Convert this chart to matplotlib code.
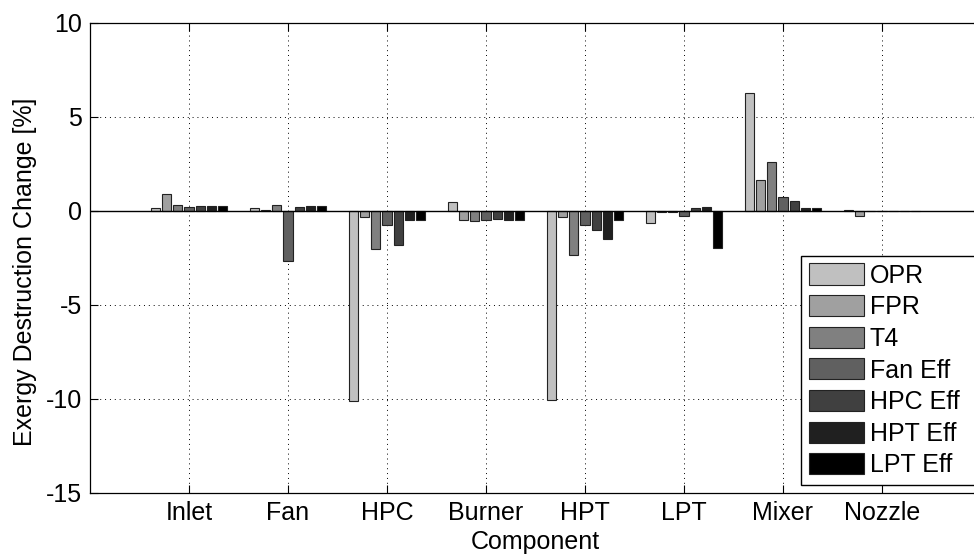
import numpy as np
from matplotlib import pyplot as plt

components = ["Inlet", "Fan", "HPC", "Burner", "HPT", "LPT", "Mixer", "Nozzle"]
series_names = ["OPR", "FPR", "T4", "Fan Eff", "HPC Eff", "HPT Eff", "LPT Eff"]

# exergy destruction change [%] per component, one list per varied parameter
opr = [0.15, 0.15, -10.08, 0.46, -10.05, -0.64, 6.26, 0.03]
fpr = [0.90, 0.07, -0.30, -0.48, -0.30, -0.05, 1.63, -0.28]
t4 = [0.30, 0.30, -2.00, -0.53, -2.32, -0.05, 2.60, 0.02]
fan_eff = [0.22, -2.66, -0.75, -0.46, -0.74, -0.28, 0.76, 0.02]
hpc_eff = [0.25, 0.23, -1.83, -0.44, -1.01, 0.14, 0.52, 0.02]
hpt_eff = [0.25, 0.25, -0.46, -0.50, -1.50, 0.20, 0.18, 0.02]
lpt_eff = [0.25, 0.25, -0.48, -0.50, -0.48, -1.98, 0.18, 0.02]

colors = ["#c0c0c0", "#a0a0a0", "#808080", "#606060", "#404040", "#202020", "#000000"]

plt.rcParams['font.family'] = ['Liberation Sans', 'DejaVu Sans']
plt.rcParams['font.size'] = 18
plt.rcParams['axes.unicode_minus'] = False

fig = plt.figure(figsize=(9.74, 5.55), dpi=100)
ax = fig.add_axes([90 / 974, 1 - 493 / 555, 891 / 974, 470 / 555])

data = [opr, fpr, t4, fan_eff, hpc_eff, hpt_eff, lpt_eff]
x = np.arange(1, len(components) + 1)
n = len(data)
group_w = 0.8
bar_w = 0.8 * group_w / n

for j, (vals, name, c) in enumerate(zip(data, series_names, colors)):
    offs = -group_w / 2 + (2 * j + 1) * group_w / (2 * n)
    ax.bar(x + offs, vals, width=bar_w, color=c, edgecolor="#222222",
           linewidth=0.8, label=name, zorder=3)

ax.axhline(0, color="k", lw=1.0, zorder=4)

ax.set_xlim(0, 9)
ax.set_ylim(-15, 10)
ax.set_xticks(x)
ax.set_xticklabels(components)
ax.set_yticks([-15, -10, -5, 0, 5, 10])
ax.grid(True, color="k", linestyle=(0, (1, 4)), linewidth=0.7, zorder=0)
ax.tick_params(direction="in", length=6, top=True, right=True, pad=6)
for s in ax.spines.values():
    s.set_linewidth(0.9)

ax.set_xlabel("Component", labelpad=3)
ax.set_ylabel("Exergy Destruction Change [%]")
ax.yaxis.set_label_coords(-0.06, 0.47)

fig.legend(loc="lower left",
           bbox_to_anchor=(801 / 974, 1 - 485 / 555, 190 / 974, 0),
           mode="expand", borderaxespad=0, fancybox=False, edgecolor="k",
           framealpha=1, handlelength=2.2, handleheight=0.92,
           labelspacing=0.3, handletextpad=0.25, borderpad=0.3)

fig.savefig("out.png", dpi=100)
